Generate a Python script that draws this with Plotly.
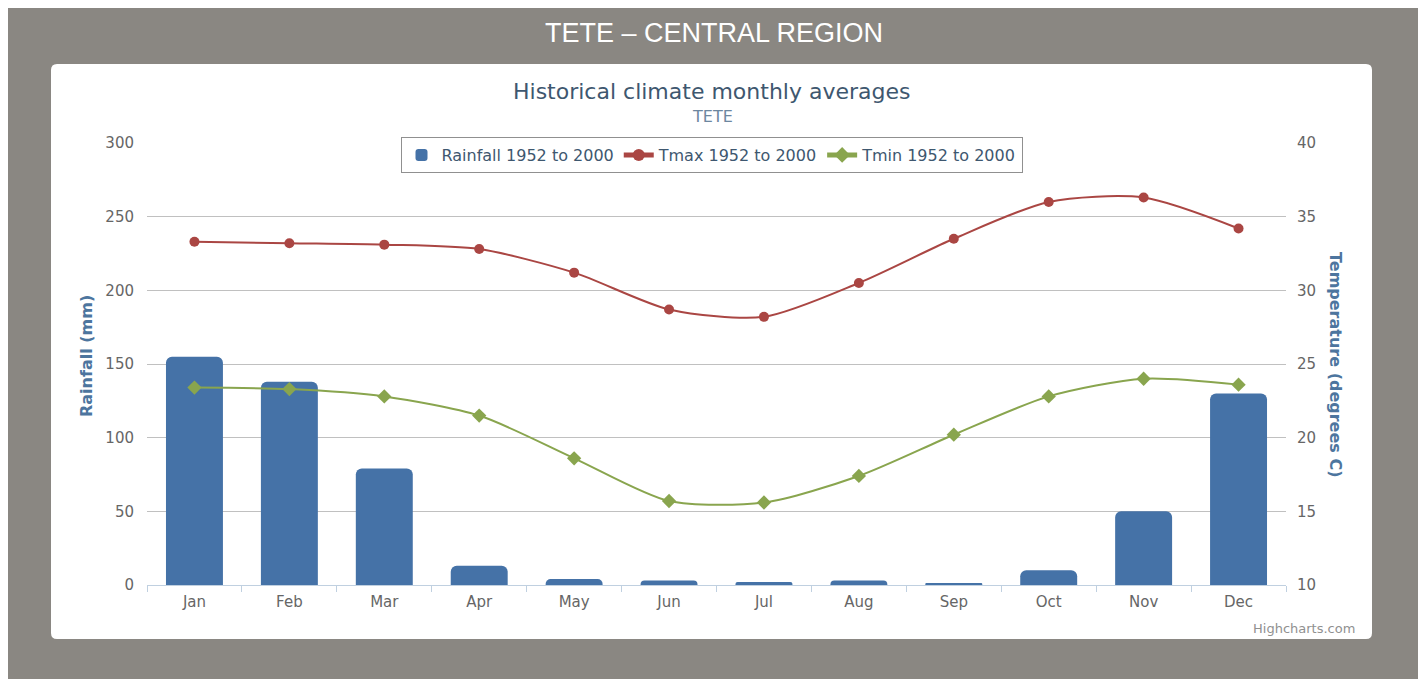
import plotly.graph_objects as go

months = ["Jan", "Feb", "Mar", "Apr", "May", "Jun", "Jul", "Aug", "Sep", "Oct", "Nov", "Dec"]
rainfall = [155, 138, 79, 13, 4, 3, 2, 3, 1, 10, 50, 130]
tmax = [33.3, 33.2, 33.1, 32.8, 31.2, 28.7, 28.2, 30.5, 33.5, 36.0, 36.3, 34.2]
tmin = [23.4, 23.3, 22.8, 21.5, 18.6, 15.7, 15.6, 17.4, 20.2, 22.8, 24.0, 23.6]
left_ticks = [0, 50, 100, 150, 200, 250, 300]
right_ticks = [10, 15, 20, 25, 30, 35, 40]

W, H = 1426, 679
OFF = 8  # page body margin offset
PL, PR, PT, PB = 147, 1286, 143, 585  # plot area in screen pixels


def px(x):
    return (x - PL) / (PR - PL)


def py(y):
    return (PB - y) / (PB - PT)


FONT = "DejaVu Sans"
BLUE = "#4572A7"
RED = "#AA4643"
GREEN = "#89A54E"

fig = go.Figure()
fig.add_trace(go.Bar(
    x=months, y=rainfall, name="Rainfall 1952 to 2000",
    marker=dict(color=BLUE, line=dict(width=0)), yaxis="y", width=0.6,
))
fig.add_trace(go.Scatter(
    x=months, y=tmax, name="Tmax 1952 to 2000", yaxis="y2",
    mode="lines+markers", line=dict(color=RED, width=2, shape="spline", smoothing=0.75),
    marker=dict(symbol="circle", size=10, color=RED),
))
fig.add_trace(go.Scatter(
    x=months, y=tmin, name="Tmin 1952 to 2000", yaxis="y2",
    mode="lines+markers", line=dict(color=GREEN, width=2, shape="spline", smoothing=0.75),
    marker=dict(symbol="diamond", size=11, color=GREEN),
))


def rounded_rect(x0, y0, x1, y1, r):
    pts = [
        f"M {px(x0 + r)} {py(y0)}",
        f"L {px(x1 - r)} {py(y0)}",
        f"Q {px(x1)} {py(y0)} {px(x1)} {py(y0 + r)}",
        f"L {px(x1)} {py(y1 - r)}",
        f"Q {px(x1)} {py(y1)} {px(x1 - r)} {py(y1)}",
        f"L {px(x0 + r)} {py(y1)}",
        f"Q {px(x0)} {py(y1)} {px(x0)} {py(y1 - r)}",
        f"L {px(x0)} {py(y0 + r)}",
        f"Q {px(x0)} {py(y0)} {px(x0 + r)} {py(y0)}",
        "Z",
    ]
    return " ".join(pts)


shapes = [
    dict(type="path", xref="paper", yref="paper", layer="below",
         path=rounded_rect(51, 64, 1372, 639, 6),
         fillcolor="white", line=dict(width=0)),
]

annotations = [
    dict(text="TETE – CENTRAL REGION", x=px(714), y=py(33), xref="paper", yref="paper",
         showarrow=False, xanchor="center", yanchor="middle",
         font=dict(family="Liberation Sans", size=27, color="white")),
    dict(text="Historical climate monthly averages", x=px(711), y=py(92), xref="paper", yref="paper",
         showarrow=False, xanchor="center", yanchor="middle",
         font=dict(family=FONT, size=22, color="#3E576F")),
    dict(text="TETE", x=px(712), y=py(116), xref="paper", yref="paper",
         showarrow=False, xanchor="center", yanchor="middle",
         font=dict(family=FONT, size=16, color="#6D869F")),
    dict(text="<b>Rainfall (mm)</b>", x=px(86), y=py(356), xref="paper", yref="paper",
         showarrow=False, xanchor="center", yanchor="middle", textangle=-90,
         font=dict(family=FONT, size=16, color="#4D759E")),
    dict(text="<b>Temperature (degrees C)</b>", x=px(1336), y=py(364), xref="paper", yref="paper",
         showarrow=False, xanchor="center", yanchor="middle", textangle=90,
         font=dict(family=FONT, size=16, color="#4D759E")),
    dict(text="Highcharts.com", x=px(1357), y=py(628), xref="paper", yref="paper",
         showarrow=False, xanchor="right", yanchor="middle",
         font=dict(family=FONT, size=13, color="#909090")),
]

fig.update_layout(
    width=W, height=H,
    margin=dict(l=PL - OFF, r=W - (PR - OFF), t=PT - OFF, b=H - (PB - OFF), pad=0),
    paper_bgcolor="#8A8782",
    plot_bgcolor="rgba(0,0,0,0)",
    font=dict(family=FONT, size=15, color="#666666"),
    barcornerradius=6,
    showlegend=True,
    legend=dict(
        orientation="h", x=px(711.5), xanchor="center", y=py(137), yanchor="top",
        bgcolor="white", bordercolor="#909090", borderwidth=1,
        font=dict(family=FONT, size=16, color="#3E576F"),
        itemsizing="constant", tracegroupgap=0,
    ),
    xaxis=dict(
        type="category", range=[-0.5, len(months) - 0.5], autorange=False,
        showgrid=False, showline=True, linecolor="#C0D0E0", linewidth=1,
        ticks="outside", tickson="boundaries", ticklen=6, tickcolor="#C0D0E0",
        ticklabelstandoff=3,
        tickfont=dict(family=FONT, size=15, color="#666666"), zeroline=False,
    ),
    yaxis=dict(
        range=[0, 300], tickvals=left_ticks, showgrid=True, gridcolor="#C0C0C0", gridwidth=1,
        zeroline=False, showline=False, ticklabelstandoff=12,
        tickfont=dict(family=FONT, size=15, color="#666666"),
    ),
    yaxis2=dict(
        range=[10, 40], tickvals=right_ticks, overlaying="y", side="right", showgrid=False,
        zeroline=False, showline=False, ticklabelstandoff=10,
        tickfont=dict(family=FONT, size=15, color="#666666"),
    ),
    shapes=shapes,
    annotations=annotations,
    bargap=0.4,
)

fig.write_html("out.html")
